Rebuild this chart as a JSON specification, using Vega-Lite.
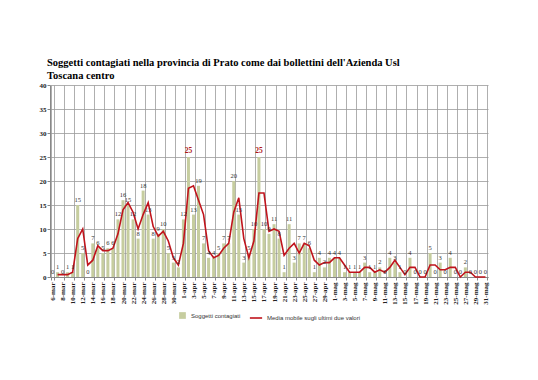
{
  "$schema": "https://vega.github.io/schema/vega-lite/v6.json",
  "width": 438,
  "height": 192,
  "autosize": {"type": "none"},
  "padding": {"left": 50, "top": 85, "right": 50, "bottom": 103},
  "background": "white",
  "title": {
    "text": ["Soggetti contagiati nella provincia di Prato come dai bollettini dell'Azienda Usl", "Toscana centro"],
    "anchor": "start",
    "frame": "group",
    "font": "Liberation Serif",
    "fontSize": 10.5,
    "fontWeight": "bold",
    "color": "black",
    "lineHeight": 13,
    "offset": 0,
    "dx": -3
  },
  "data": {
    "values": [
      {"g": "6-mar", "v": 0, "m": null},
      {"g": "7-mar", "v": 1, "m": 0.5},
      {"g": "8-mar", "v": 0, "m": 0.5},
      {"g": "9-mar", "v": 1, "m": 0.5},
      {"g": "10-mar", "v": 1, "m": 1},
      {"g": "11-mar", "v": 15, "m": 8},
      {"g": "12-mar", "v": 5, "m": 10},
      {"g": "13-mar", "v": 0, "m": 2.5},
      {"g": "14-mar", "v": 7, "m": 3.5},
      {"g": "15-mar", "v": 6, "m": 6.5},
      {"g": "16-mar", "v": 5, "m": 5.5},
      {"g": "17-mar", "v": 6, "m": 5.5},
      {"g": "18-mar", "v": 6, "m": 6},
      {"g": "19-mar", "v": 12, "m": 9},
      {"g": "20-mar", "v": 16, "m": 14},
      {"g": "21-mar", "v": 15, "m": 15.5},
      {"g": "22-mar", "v": 12, "m": 13.5},
      {"g": "23-mar", "v": 8, "m": 10},
      {"g": "24-mar", "v": 18, "m": 13},
      {"g": "25-mar", "v": 13, "m": 15.5},
      {"g": "26-mar", "v": 8, "m": 10.5},
      {"g": "27-mar", "v": 9, "m": 8.5},
      {"g": "28-mar", "v": 10, "m": 9.5},
      {"g": "29-mar", "v": 5, "m": 7.5},
      {"g": "30-mar", "v": 3, "m": 4},
      {"g": "31-mar", "v": 2, "m": 2.5},
      {"g": "1-apr", "v": 12, "m": 7},
      {"g": "2-apr", "v": 25, "m": 18.5},
      {"g": "3-apr", "v": 13, "m": 19},
      {"g": "4-apr", "v": 19, "m": 16},
      {"g": "5-apr", "v": 7, "m": 13},
      {"g": "6-apr", "v": 4, "m": 5.5},
      {"g": "7-apr", "v": 4, "m": 4},
      {"g": "8-apr", "v": 5, "m": 4.5},
      {"g": "9-apr", "v": 7, "m": 6},
      {"g": "10-apr", "v": 7, "m": 7},
      {"g": "11-apr", "v": 20, "m": 13.5},
      {"g": "12-apr", "v": 13, "m": 16.5},
      {"g": "13-apr", "v": 3, "m": 8},
      {"g": "14-apr", "v": 5, "m": 4},
      {"g": "15-apr", "v": 10, "m": 7.5},
      {"g": "16-apr", "v": 25, "m": 17.5},
      {"g": "17-apr", "v": 10, "m": 17.5},
      {"g": "18-apr", "v": 9, "m": 9.5},
      {"g": "19-apr", "v": 11, "m": 10},
      {"g": "20-apr", "v": 8, "m": 9.5},
      {"g": "21-apr", "v": 1, "m": 4.5},
      {"g": "22-apr", "v": 11, "m": 6},
      {"g": "23-apr", "v": 3, "m": 7},
      {"g": "24-apr", "v": 7, "m": 5},
      {"g": "25-apr", "v": 7, "m": 7},
      {"g": "26-apr", "v": 6, "m": 6.5},
      {"g": "27-apr", "v": 1, "m": 3.5},
      {"g": "28-apr", "v": 4, "m": 2.5},
      {"g": "29-apr", "v": 2, "m": 3},
      {"g": "30-apr", "v": 4, "m": 3},
      {"g": "1-mag", "v": 4, "m": 4},
      {"g": "2-mag", "v": 4, "m": 4},
      {"g": "3-mag", "v": 1, "m": 2.5},
      {"g": "4-mag", "v": 1, "m": 1},
      {"g": "5-mag", "v": 1, "m": 1},
      {"g": "6-mag", "v": 1, "m": 1},
      {"g": "7-mag", "v": 3, "m": 2},
      {"g": "8-mag", "v": 1, "m": 2},
      {"g": "9-mag", "v": 1, "m": 1},
      {"g": "10-mag", "v": 2, "m": 1.5},
      {"g": "11-mag", "v": 0, "m": 1},
      {"g": "12-mag", "v": 4, "m": 2},
      {"g": "13-mag", "v": 3, "m": 3.5},
      {"g": "14-mag", "v": 1, "m": 2},
      {"g": "15-mag", "v": 0, "m": 0.5},
      {"g": "16-mag", "v": 4, "m": 2},
      {"g": "17-mag", "v": 0, "m": 2},
      {"g": "18-mag", "v": 0, "m": 0},
      {"g": "19-mag", "v": 0, "m": 0},
      {"g": "20-mag", "v": 5, "m": 2.5},
      {"g": "21-mag", "v": 0, "m": 2.5},
      {"g": "22-mag", "v": 3, "m": 1.5},
      {"g": "23-mag", "v": 0, "m": 1.5},
      {"g": "24-mag", "v": 4, "m": 2},
      {"g": "25-mag", "v": 0, "m": 2},
      {"g": "26-mag", "v": 0, "m": 0},
      {"g": "27-mag", "v": 2, "m": 1},
      {"g": "28-mag", "v": 0, "m": 1},
      {"g": "29-mag", "v": 0, "m": 0},
      {"g": "30-mag", "v": 0, "m": 0},
      {"g": "31-mag", "v": 0, "m": 0}
    ]
  },
  "encoding": {
    "x": {
      "field": "g",
      "type": "ordinal",
      "sort": null,
      "scale": {"paddingInner": 0.4, "paddingOuter": 0.2},
      "axis": {
        "values": ["6-mar", "8-mar", "10-mar", "12-mar", "14-mar", "16-mar", "18-mar", "20-mar", "22-mar", "24-mar", "26-mar", "28-mar", "30-mar", "1-apr", "3-apr", "5-apr", "7-apr", "9-apr", "11-apr", "13-apr", "15-apr", "17-apr", "19-apr", "21-apr", "23-apr", "25-apr", "27-apr", "29-apr", "1-mag", "3-mag", "5-mag", "7-mag", "9-mag", "11-mag", "13-mag", "15-mag", "17-mag", "19-mag", "21-mag", "23-mag", "25-mag", "27-mag", "29-mag", "31-mag"]
      }
    }
  },
  "layer": [
    {
      "mark": {"type": "bar"},
      "encoding": {
        "y": {
          "field": "v",
          "type": "quantitative",
          "scale": {"domain": [0, 40], "nice": false},
          "axis": {"values": [0, 5, 10, 15, 20, 25, 30, 35, 40]}
        },
        "fill": {
          "datum": "Soggetti contagiati",
          "type": "nominal",
          "scale": {"range": ["#c6cd9f"]},
          "legend": {"symbolType": "square", "symbolSize": 45}
        }
      }
    },
    {
      "mark": {"type": "line", "strokeWidth": 1.6},
      "encoding": {
        "y": {
          "field": "m",
          "type": "quantitative",
          "scale": {"domain": [0, 40], "nice": false},
          "axis": {"values": [0, 5, 10, 15, 20, 25, 30, 35, 40]}
        },
        "stroke": {
          "datum": "Media mobile sugli ultimi due valori",
          "type": "nominal",
          "scale": {"range": ["#c0141c"]},
          "legend": {"symbolType": "stroke", "symbolSize": 150, "symbolStrokeWidth": 1.6}
        }
      }
    },
    {
      "transform": [{"filter": "datum.v < 25"}],
      "mark": {"type": "text", "dy": -2, "baseline": "bottom", "font": "Liberation Serif", "fontSize": 6.5, "color": "#333333"},
      "encoding": {
        "y": {
          "field": "v",
          "type": "quantitative",
          "scale": {"domain": [0, 40], "nice": false},
          "axis": {"values": [0, 5, 10, 15, 20, 25, 30, 35, 40]}
        },
        "text": {"field": "v"}
      }
    },
    {
      "transform": [{"filter": "datum.v >= 25"}],
      "mark": {"type": "text", "dy": -2, "baseline": "bottom", "font": "Liberation Serif", "fontSize": 7.5, "fontWeight": "bold", "color": "#b01515"},
      "encoding": {
        "y": {
          "field": "v",
          "type": "quantitative",
          "scale": {"domain": [0, 40], "nice": false},
          "axis": {"values": [0, 5, 10, 15, 20, 25, 30, 35, 40]}
        },
        "text": {"field": "v"}
      }
    }
  ],
  "config": {
    "view": {"stroke": null},
    "axis": {
      "title": null,
      "grid": true,
      "gridColor": "#9a9a9a",
      "gridWidth": 0.8,
      "gridOpacity": 1,
      "labelFont": "Liberation Serif",
      "labelFontSize": 7,
      "labelFontWeight": "bold",
      "labelColor": "#222222",
      "domainColor": "#888888",
      "tickColor": "#888888",
      "tickSize": 3
    },
    "axisX": {
      "labelAngle": -90,
      "labelPadding": 2,
      "tickBand": "extent",
      "grid": true
    },
    "axisY": {
      "labelPadding": 1,
      "grid": true
    },
    "legend": {
      "orient": "bottom",
      "title": null,
      "offset": 6,
      "labelFont": "Liberation Sans",
      "labelFontSize": 6,
      "labelColor": "#333333",
      "padding": 0,
      "layout": {"bottom": {"anchor": "middle"}}
    }
  }
}
